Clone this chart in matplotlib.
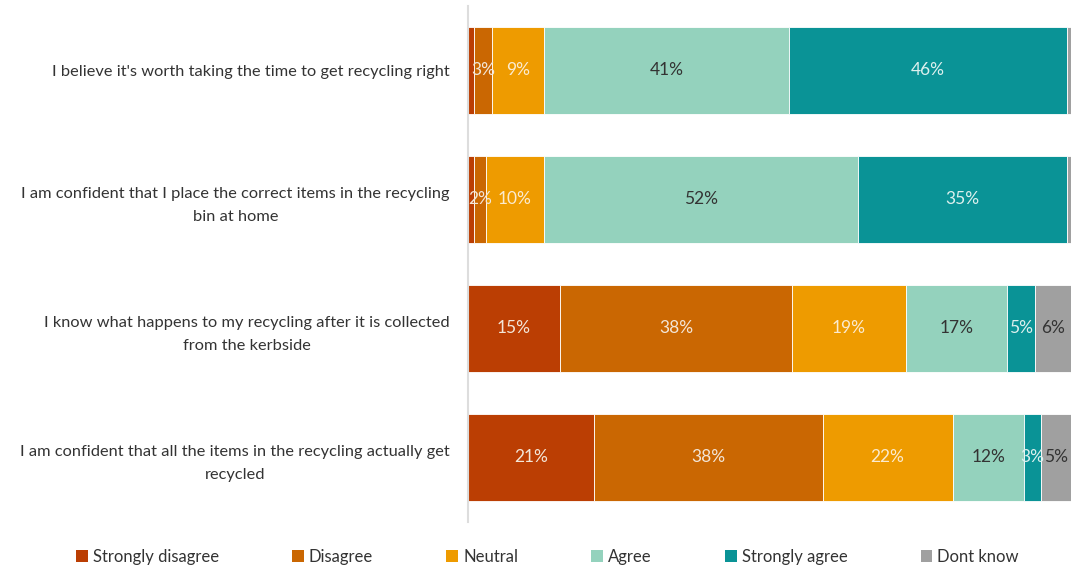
import matplotlib.pyplot as plt
from matplotlib.patches import Patch

plt.rcParams['font.family'] = ['Lato', 'DejaVu Sans']

statements = [
    "I believe it's worth taking the time to get recycling right",
    "I am confident that I place the correct items in the recycling\nbin at home",
    "I know what happens to my recycling after it is collected\nfrom the kerbside",
    "I am confident that all the items in the recycling actually get\nrecycled",
]
categories = ["Strongly disagree", "Disagree", "Neutral", "Agree", "Strongly agree", "Dont know"]
colors = ["#BB3E03", "#CA6702", "#EE9B00", "#94D2BD", "#0A9396", "#A0A0A0"]

# percentages per statement, one list per answer category
strongly_disagree = [1.0, 1.0, 15.3, 20.9]
disagree = [3.0, 2.0, 38.5, 37.9]
neutral = [8.6, 9.6, 18.8, 21.6]
agree = [40.7, 52.0, 16.8, 11.8]
strongly_agree = [46.0, 34.7, 4.7, 2.8]
dont_know = [0.7, 0.7, 6.0, 5.0]

series = [strongly_disagree, disagree, neutral, agree, strongly_agree, dont_know]
label_colors = ["#F3E6D8", "#F3E6D8", "#FBEBD0", "#333333", "#DDF0EE", "#333333"]

fig = plt.figure(figsize=(10.82, 5.69), dpi=100)
ax = fig.add_axes([0.4325, 0.0826, 0.5573, 0.9069])

ypos = list(range(len(statements)))
left = [0.0] * len(statements)
for vals, col, lc, name in zip(series, colors, label_colors, categories):
    ax.barh(ypos, vals, left=left, height=0.67, color=col,
            edgecolor="white", linewidth=0.6, label=name)
    for i, v in enumerate(vals):
        if v >= 1.5:
            ax.text(left[i] + v / 2, ypos[i], f"{round(v):.0f}%", ha="center",
                    va="center", fontsize=12.5, color=lc)
    left = [l + v for l, v in zip(left, vals)]

ax.set_xlim(0, 100)
ax.set_ylim(3.5, -0.5)
ax.set_yticks(ypos)
ax.set_yticklabels(statements, fontsize=11.8, color="#333333", ha="right",
                   multialignment="center", linespacing=1.85)
ax.tick_params(axis="y", length=0, pad=13)
ax.set_xticks([])
for s in ["top", "right", "bottom"]:
    ax.spines[s].set_visible(False)
ax.spines["left"].set_color("#DDDDDD")
ax.spines["left"].set_linewidth(1.5)

handles = [Patch(facecolor=c, label=n) for c, n in zip(colors, categories)]
fig.legend(handles=handles, loc="center", bbox_to_anchor=(0.506, 0.021), ncol=6,
           frameon=False, fontsize=12, handlelength=0.7, handleheight=0.7,
           handletextpad=0.3, columnspacing=4.4, labelcolor="#333333")

fig.savefig("out.png", dpi=100)
